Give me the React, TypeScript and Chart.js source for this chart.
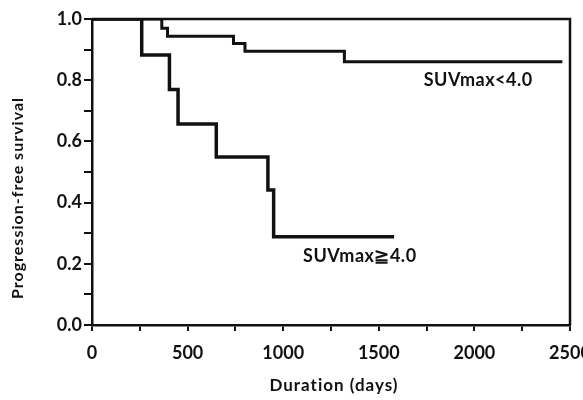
import React, { useEffect, useRef } from "react";
import { Chart, registerables } from "chart.js";

Chart.register(...registerables);

const lowDays = [0, 365, 395, 740, 800, 1320, 2460];
const lowSurv = [1.0, 0.97, 0.944, 0.92, 0.895, 0.86, 0.86];
const highDays = [0, 260, 405, 450, 650, 920, 950, 1580];
const highSurv = [1.0, 0.882, 0.77, 0.657, 0.549, 0.441, 0.288, 0.288];
const xTickLabels = [0, 500, 1000, 1500, 2000, 2500];
const yTickLabels = [0.0, 0.2, 0.4, 0.6, 0.8, 1.0];
const lowLabel = "SUVmax<4.0";
const highLabel = "SUVmax≧4.0";
const lowLabelPos = { x: 1735, y: 0.8 };
const highLabelPos = { x: 1104, y: 0.225 };
const xTitle = "Duration (days)";
const yTitle = "Progression-free survival";

const FONT = "Lato, 'Open Sans', sans-serif";

const decorPlugin = {
  id: "decor",
  afterDraw(chart: any) {
    const { ctx, chartArea, scales } = chart;
    const xs = scales.x;
    const ys = scales.y;
    ctx.save();
    ctx.strokeStyle = "#111";
    ctx.lineWidth = 2.5;
    ctx.beginPath();
    ctx.moveTo(chartArea.left, chartArea.top);
    ctx.lineTo(chartArea.right, chartArea.top);
    ctx.lineTo(chartArea.right, chartArea.bottom);
    ctx.stroke();
    ctx.fillStyle = "#111";
    ctx.font = `bold 18px ${FONT}`;
    ctx.textAlign = "center";
    ctx.textBaseline = "middle";
    xTickLabels.forEach((v) => {
      ctx.fillText(String(v), xs.getPixelForValue(v), 353);
    });
    ctx.font = `bold 17px ${FONT}`;
    (ctx as any).letterSpacing = "1px";
    ctx.fillText(xTitle, (chartArea.left + chartArea.right) / 2 + 3, 386);
    ctx.save();
    ctx.translate(18, 198);
    ctx.rotate(-Math.PI / 2);
    ctx.font = `bold 16px ${FONT}`;
    ctx.fillText(yTitle, 0, 0);
    ctx.restore();
    ctx.font = `bold 18px ${FONT}`;
    (ctx as any).letterSpacing = "0.5px";
    ctx.textAlign = "left";
    ctx.fillText(lowLabel, xs.getPixelForValue(lowLabelPos.x), ys.getPixelForValue(lowLabelPos.y));
    ctx.fillText(highLabel, xs.getPixelForValue(highLabelPos.x), ys.getPixelForValue(highLabelPos.y));
    ctx.restore();
  },
};

export default function App() {
  const ref = useRef<HTMLCanvasElement>(null);
  useEffect(() => {
    if (!ref.current) return;
    const chart = new Chart(ref.current, {
      type: "line",
      data: {
        datasets: [
          {
            label: lowLabel,
            data: lowDays.map((d, i) => ({ x: d, y: lowSurv[i] })),
            borderColor: "#111",
            borderWidth: 3,
            pointRadius: 0,
            stepped: true,
            fill: false,
          },
          {
            label: highLabel,
            data: highDays.map((d, i) => ({ x: d, y: highSurv[i] })),
            borderColor: "#111",
            borderWidth: 3.5,
            pointRadius: 0,
            stepped: true,
            fill: false,
          },
        ],
      },
      options: {
        animation: false,
        responsive: false,
        maintainAspectRatio: false,
        layout: { padding: { top: 19, right: 13, left: 0, bottom: 0 } },
        plugins: { legend: { display: false }, tooltip: { enabled: false } },
        scales: {
          x: {
            type: "linear",
            min: 0,
            max: 2500,
            ticks: { stepSize: 250, display: false },
            grid: { drawOnChartArea: false, tickLength: 6, color: "#111", lineWidth: 2 },
            border: { display: true, color: "#111", width: 2.5 },
            afterFit(scale: any) {
              scale.height = 75;
            },
          },
          y: {
            min: 0,
            max: 1,
            ticks: {
              stepSize: 0.1,
              color: "#111",
              padding: 2,
              font: { family: FONT, size: 18, weight: "bold" },
              callback: (v: any) => {
                const n = Math.round(Number(v) * 10);
                const match = yTickLabels.find((t) => Math.round(t * 10) === n);
                return match !== undefined ? match.toFixed(1) : "";
              },
            },
            grid: { drawOnChartArea: false, tickLength: 8, color: "#111", lineWidth: 2 },
            border: { display: true, color: "#111", width: 2.5 },
            afterFit(scale: any) {
              scale.width = 92;
            },
          },
        },
      },
      plugins: [decorPlugin],
    });
    return () => chart.destroy();
  }, []);
  return (
    <div style={{ position: "fixed", left: 0, top: 0, width: 583, height: 400, background: "#fff" }}>
      <canvas ref={ref} width={583} height={400} />
    </div>
  );
}
